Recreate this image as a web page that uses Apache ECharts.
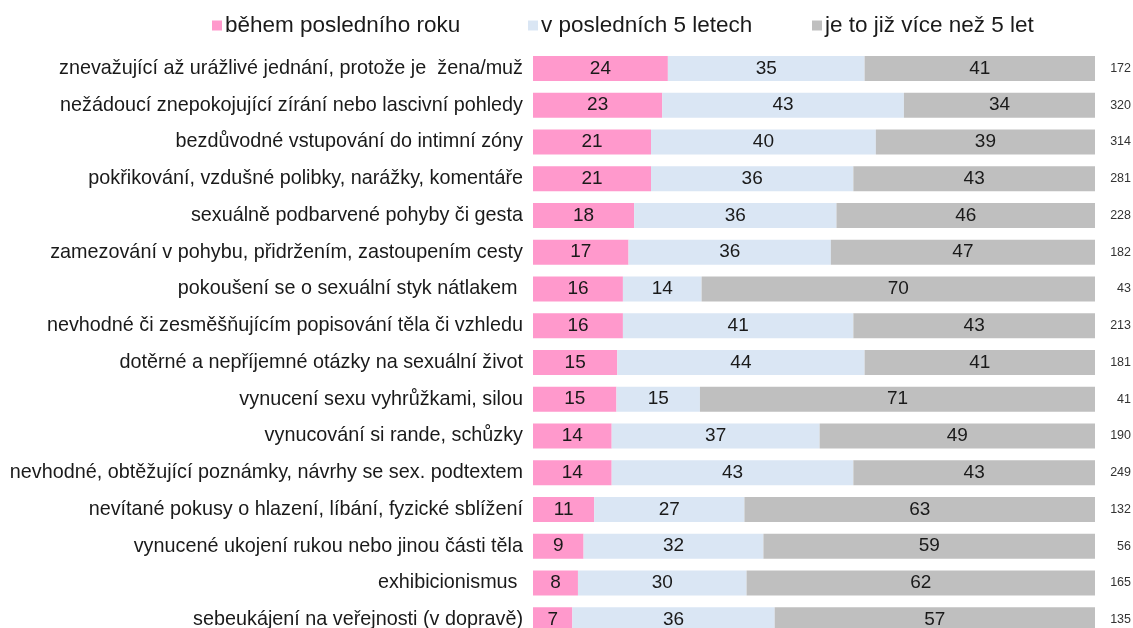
<!DOCTYPE html>
<html>
<head>
<meta charset="utf-8">
<script src="https://cdn.jsdelivr.net/npm/echarts@6/dist/echarts.min.js"></script>
<style>
  html, body { margin: 0; padding: 0; background: #fff; }
  #chart { width: 1133px; height: 628px; }
</style>
</head>
<body>
<div id="chart"></div>
<script>
const categories = [
  'znevažující až urážlivé jednání, protože je  žena/muž',
  'nežádoucí znepokojující zírání nebo lascivní pohledy',
  'bezdůvodné vstupování do intimní zóny',
  'pokřikování, vzdušné polibky, narážky, komentáře',
  'sexuálně podbarvené pohyby či gesta',
  'zamezování v pohybu, přidržením, zastoupením cesty',
  'pokoušení se o sexuální styk nátlakem ',
  'nevhodné či zesměšňujícím popisování těla či vzhledu',
  'dotěrné a nepříjemné otázky na sexuální život',
  'vynucení sexu vyhrůžkami, silou',
  'vynucování si rande, schůzky',
  'nevhodné, obtěžující poznámky, návrhy se sex. podtextem',
  'nevítané pokusy o hlazení, líbání, fyzické sblížení',
  'vynucené ukojení rukou nebo jinou části těla',
  'exhibicionismus ',
  'sebeukájení na veřejnosti (v dopravě)'
]
const lastYear = [24, 23, 21, 21, 18, 17, 16, 16, 15, 15, 14, 14, 11, 9, 8, 7]
const last5Years = [35, 43, 40, 36, 36, 36, 14, 41, 44, 15, 37, 43, 27, 32, 30, 36]
const moreThan5 = [41, 34, 39, 43, 46, 47, 70, 43, 41, 71, 49, 43, 63, 59, 62, 57]
const nValues = ['172', '320', '314', '281', '228', '182', '43', '213', '181', '41', '190', '249', '132', '56', '165', '135']

const seriesNames = ['během posledního roku', 'v posledních 5 letech', 'je to již více než 5 let']
const colors = ['#FF99CC', '#DAE6F4', '#BFBFBF']
const fontFamily = 'Liberation Sans, Arial, sans-serif'

// každý řádek přepočítat na 100 %, popisek ukazuje původní číslo
const totals = lastYear.map((v, i) => v + last5Years[i] + moreThan5[i])
const toSeries = (arr, idx) => ({
  name: seriesNames[idx],
  type: 'bar',
  stack: 'all',
  barWidth: 25,
  itemStyle: { color: colors[idx] },
  label: {
    show: true,
    position: 'inside',
    color: '#1a1a1a',
    fontSize: 19,
    fontFamily: fontFamily,
    formatter: p => arr[p.dataIndex]
  },
  data: arr.map((v, i) => v / totals[i] * 100)
})

const chart = echarts.init(document.getElementById('chart'))
const legendLefts = [212, 528, 812]
chart.setOption({
  animation: false,
  textStyle: { fontFamily: fontFamily },
  legend: seriesNames.map((name, i) => ({
    data: [name],
    left: legendLefts[i],
    top: 14,
    icon: 'rect',
    itemWidth: 10,
    itemHeight: 10,
    itemGap: 0,
    padding: 0,
    textStyle: { fontSize: 22.5, color: '#1a1a1a', fontFamily: fontFamily, padding: [0, 0, 0, -2] }
  })),
  grid: { left: 533, right: 38, top: 50, height: 588, outerBoundsMode: 'none', containLabel: false },
  xAxis: { type: 'value', min: 0, max: 100, show: false },
  yAxis: [
    {
      type: 'category',
      inverse: true,
      data: categories,
      axisLine: { show: false },
      axisTick: { show: false },
      axisLabel: { color: '#1a1a1a', fontSize: 19.8, margin: 10, fontFamily: fontFamily }
    },
    {
      type: 'category',
      inverse: true,
      position: 'right',
      data: nValues,
      axisLine: { show: false },
      axisTick: { show: false },
      axisLabel: { color: '#333', fontSize: 12.5, margin: 36, align: 'right', fontFamily: fontFamily }
    }
  ],
  series: [toSeries(lastYear, 0), toSeries(last5Years, 1), toSeries(moreThan5, 2)]
})
</script>
</body>
</html>
